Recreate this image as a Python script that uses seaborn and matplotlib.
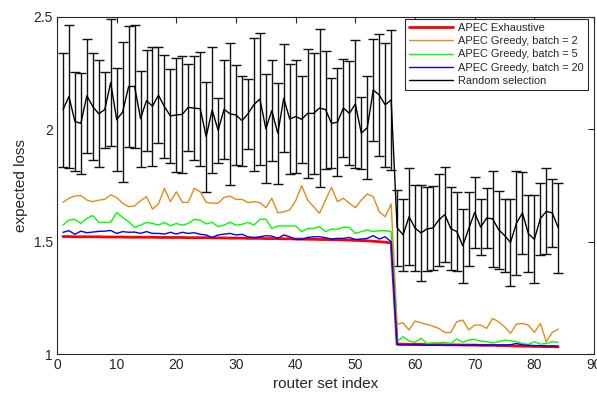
import numpy as np
import pandas as pd
import matplotlib
matplotlib.use("Agg")
import matplotlib.pyplot as plt
import seaborn as sns

# ---------------- data ----------------
router_index = list(range(1, 85))

exhaustive = [1.523, 1.523, 1.522, 1.522, 1.522, 1.522, 1.522, 1.521, 1.521, 1.521,
              1.521, 1.520, 1.520, 1.520, 1.520, 1.520, 1.519, 1.519, 1.519, 1.519,
              1.519, 1.518, 1.518, 1.518, 1.518, 1.517, 1.517, 1.517, 1.516, 1.516,
              1.516, 1.515, 1.515, 1.515, 1.514, 1.514, 1.514, 1.513, 1.513, 1.512,
              1.512, 1.511, 1.511, 1.510, 1.510, 1.509, 1.509, 1.508, 1.507, 1.506,
              1.505, 1.504, 1.502, 1.500, 1.498, 1.495,
              1.045, 1.045, 1.044, 1.044, 1.044, 1.043, 1.043, 1.043, 1.042, 1.042,
              1.042, 1.041, 1.041, 1.041, 1.040, 1.040, 1.040, 1.039, 1.039, 1.038,
              1.037, 1.036, 1.036, 1.035, 1.035, 1.034, 1.034, 1.033]

greedy_2 = [1.675, 1.693, 1.703, 1.705, 1.685, 1.678, 1.685, 1.688, 1.708, 1.696,
            1.671, 1.656, 1.659, 1.682, 1.700, 1.645, 1.668, 1.737, 1.678, 1.722,
            1.675, 1.675, 1.737, 1.722, 1.675, 1.671, 1.671, 1.697, 1.703, 1.688,
            1.688, 1.674, 1.678, 1.674, 1.651, 1.693, 1.629, 1.633, 1.641, 1.682,
            1.749, 1.685, 1.656, 1.626, 1.685, 1.742, 1.678, 1.693, 1.671, 1.651,
            1.685, 1.712, 1.700, 1.633, 1.611, 1.668,
            1.134, 1.140, 1.108, 1.148, 1.140, 1.133, 1.125, 1.115, 1.097, 1.097,
            1.145, 1.152, 1.108, 1.130, 1.130, 1.115, 1.159, 1.145, 1.122, 1.093,
            1.134, 1.137, 1.130, 1.097, 1.137, 1.056, 1.097, 1.112]

greedy_5 = [1.574, 1.596, 1.599, 1.581, 1.604, 1.616, 1.586, 1.586, 1.586, 1.630,
            1.608, 1.589, 1.564, 1.574, 1.586, 1.581, 1.574, 1.585, 1.571, 1.581,
            1.574, 1.581, 1.599, 1.596, 1.579, 1.586, 1.567, 1.574, 1.586, 1.574,
            1.577, 1.586, 1.574, 1.599, 1.601, 1.559, 1.570, 1.570, 1.570, 1.570,
            1.545, 1.559, 1.559, 1.567, 1.545, 1.556, 1.556, 1.564, 1.564, 1.537,
            1.545, 1.552, 1.545, 1.549, 1.549, 1.545,
            1.056, 1.078, 1.059, 1.053, 1.071, 1.048, 1.051, 1.051, 1.053, 1.048,
            1.068, 1.053, 1.063, 1.066, 1.059, 1.056, 1.051, 1.056, 1.063, 1.060,
            1.056, 1.048, 1.044, 1.056, 1.045, 1.048, 1.056, 1.053]

greedy_20 = [1.542, 1.549, 1.533, 1.547, 1.540, 1.543, 1.546, 1.547, 1.550, 1.537,
             1.545, 1.542, 1.543, 1.537, 1.545, 1.537, 1.537, 1.534, 1.542, 1.534,
             1.542, 1.537, 1.540, 1.533, 1.530, 1.519, 1.530, 1.534, 1.537, 1.530,
             1.533, 1.522, 1.519, 1.522, 1.527, 1.525, 1.515, 1.530, 1.522, 1.510,
             1.510, 1.519, 1.522, 1.522, 1.518, 1.512, 1.515, 1.515, 1.519, 1.510,
             1.512, 1.515, 1.527, 1.512, 1.522, 1.500,
             1.043, 1.042, 1.042, 1.042, 1.041, 1.041, 1.041, 1.041, 1.041, 1.041,
             1.041, 1.041, 1.041, 1.041, 1.041, 1.041, 1.041, 1.041, 1.041, 1.043,
             1.048, 1.042, 1.040, 1.039, 1.038, 1.037, 1.037, 1.036]

random_mean = [2.087, 2.145, 2.034, 2.026, 2.149, 2.100, 2.068, 2.087, 2.207, 2.042,
               2.076, 2.189, 2.190, 2.047, 2.127, 2.102, 2.151, 2.100, 2.059, 2.063,
               2.066, 2.097, 2.093, 2.091, 1.967, 2.085, 1.995, 2.088, 2.068, 2.063,
               2.038, 2.068, 2.109, 2.134, 2.002, 2.082, 1.982, 2.137, 2.045, 2.056,
               2.044, 2.070, 2.070, 2.094, 2.087, 2.026, 2.031, 2.094, 2.070, 2.112,
               1.982, 2.007, 2.174, 2.152, 2.108, 2.130,
               1.562, 1.531, 1.611, 1.561, 1.539, 1.557, 1.561, 1.597, 1.621, 1.558,
               1.545, 1.482, 1.558, 1.630, 1.565, 1.605, 1.602, 1.554, 1.528, 1.497,
               1.582, 1.628, 1.536, 1.511, 1.602, 1.635, 1.628, 1.563]

random_err = [0.253, 0.319, 0.222, 0.225, 0.253, 0.237, 0.237, 0.169, 0.281, 0.228,
              0.310, 0.267, 0.273, 0.213, 0.224, 0.265, 0.213, 0.230, 0.210, 0.255,
              0.261, 0.193, 0.230, 0.253, 0.244, 0.281, 0.145, 0.219, 0.314, 0.224,
              0.200, 0.154, 0.295, 0.293, 0.241, 0.225, 0.225, 0.240, 0.244, 0.252,
              0.193, 0.286, 0.270, 0.353, 0.262, 0.200, 0.240, 0.218, 0.231, 0.285,
              0.159, 0.230, 0.225, 0.270, 0.275, 0.311,
              0.168, 0.160, 0.215, 0.191, 0.213, 0.187, 0.187, 0.203, 0.213, 0.184,
              0.174, 0.164, 0.164, 0.159, 0.124, 0.135, 0.213, 0.173, 0.161, 0.192,
              0.230, 0.183, 0.172, 0.196, 0.161, 0.191, 0.150, 0.200]

series_names = ["APEC Exhaustive", "APEC Greedy, batch = 2", "APEC Greedy, batch = 5",
                "APEC Greedy, batch = 20", "Random selection"]
series_colors = ["#ff0000", "#e38a1a", "#00ff00", "#0000ff", "#000000"]
series_widths = [2.0, 1.0, 1.0, 1.0, 1.0]

x_ticks = [0, 10, 20, 30, 40, 50, 60, 70, 80, 90]
y_ticks = [1, 1.5, 2, 2.5]
y_tick_labels = ["1", "1.5", "2", "2.5"]

# ---------------- plotting ----------------
sns.set_style("white")
plt.rcParams["font.family"] = ["Liberation Sans", "DejaVu Sans"]

values = [exhaustive, greedy_2, greedy_5, greedy_20, random_mean]
df = pd.concat([pd.DataFrame({"router set index": router_index,
                              "expected loss": v,
                              "method": name})
                for v, name in zip(values, series_names)], ignore_index=True)

fig = plt.figure(figsize=(5.97, 3.95), dpi=100)
ax = fig.add_axes([0.0955, 0.103, 0.8995, 0.855])

ax.errorbar(router_index, random_mean, yerr=random_err, fmt="none",
            ecolor="#111111", elinewidth=1.0, capsize=3.4, capthick=1.0, zorder=2)

for name, col, lw in zip(series_names, series_colors, series_widths):
    sns.lineplot(data=df[df["method"] == name], x="router set index", y="expected loss",
                 color=col, linewidth=lw, ax=ax, label=name, zorder=3,
                 estimator=None, sort=False)

ax.set_xlim(0, 90)
ax.set_ylim(1, 2.5)
ax.set_xticks(x_ticks)
ax.set_yticks(y_ticks)
ax.set_yticklabels(y_tick_labels)
ax.set_xlabel("router set index", fontsize=11, color="#262626", labelpad=3)
ax.set_ylabel("expected loss", fontsize=11, color="#262626", labelpad=4)

for s in ax.spines.values():
    s.set_visible(True)
    s.set_color("#262626")
    s.set_linewidth(0.8)
ax.tick_params(direction="in", top=True, right=True, length=4, width=0.8,
               labelsize=10, colors="#262626", pad=3)

leg = ax.legend(loc="upper right", bbox_to_anchor=(0.988, 0.993), borderaxespad=0,
                fontsize=7.9, frameon=True, fancybox=False, handlelength=4.0,
                handletextpad=0.45, labelspacing=0.3, borderpad=0.35)
leg.get_frame().set_edgecolor("#262626")
leg.get_frame().set_linewidth(0.8)
leg.get_frame().set_alpha(1)

fig.savefig("out.png", dpi=100)
